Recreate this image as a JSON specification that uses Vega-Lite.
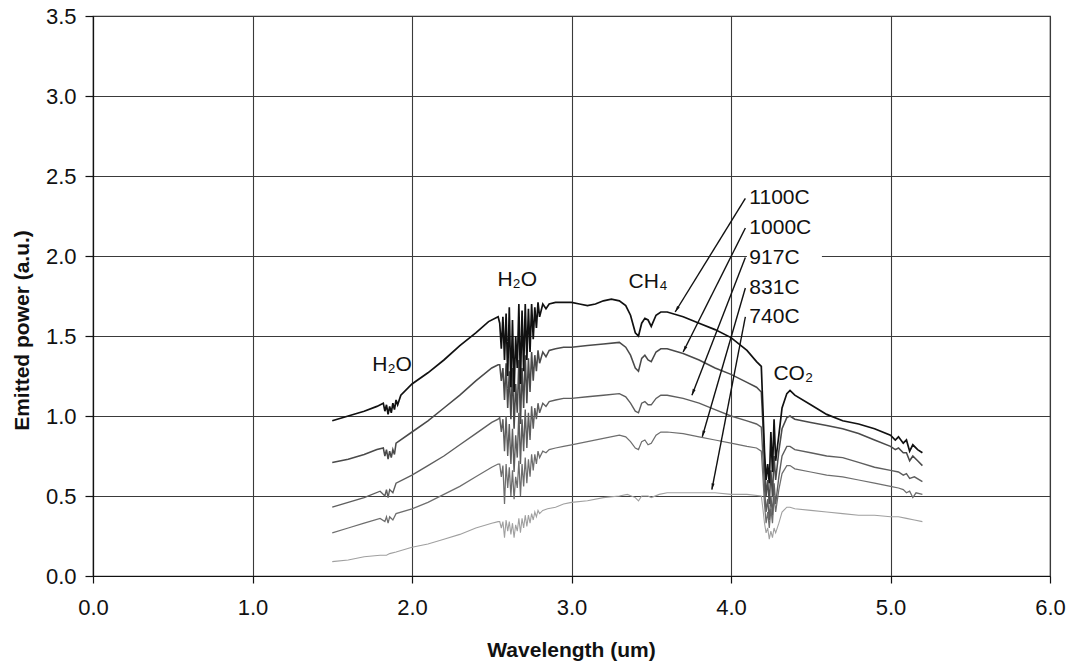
{
"$schema": "https://vega.github.io/schema/vega-lite/v6.json",
"width": 957, "height": 560,
"autosize": {"type": "none"},
"padding": {"left": 93, "top": 16, "right": 22, "bottom": 90},
"background": "white",
"config": {
 "font": "Liberation Sans",
 "view": {"stroke": "#333", "strokeWidth": 1.2},
 "axis": {"gridColor": "#3a3a3a", "gridWidth": 1.1, "gridOpacity": 1, "domainColor": "#111", "domainWidth": 1.2, "tickColor": "#111", "tickWidth": 1.2, "labelColor": "#111", "titleColor": "#111", "labelFont": "Liberation Sans", "titleFont": "Liberation Sans", "labelFlush": false, "labelOverlap": false}
},
"datasets": {
"spectra": [
{"s":"740C","w":1.5,"p":0.09},{"s":"740C","w":1.6,"p":0.10},{"s":"740C","w":1.7,"p":0.12},{"s":"740C","w":1.8,"p":0.13},{"s":"740C","w":1.84,"p":0.13},{"s":"740C","w":1.86,"p":0.14},{"s":"740C","w":1.9,"p":0.15},{"s":"740C","w":2.0,"p":0.18},{"s":"740C","w":2.1,"p":0.20},{"s":"740C","w":2.2,"p":0.23},{"s":"740C","w":2.3,"p":0.26},{"s":"740C","w":2.4,"p":0.30},{"s":"740C","w":2.5,"p":0.33},{"s":"740C","w":2.54,"p":0.34},
{"s":"740C","w":2.55,"p":0.34},{"s":"740C","w":2.56,"p":0.30},{"s":"740C","w":2.57,"p":0.34},{"s":"740C","w":2.58,"p":0.24},{"s":"740C","w":2.59,"p":0.35},{"s":"740C","w":2.60,"p":0.28},{"s":"740C","w":2.61,"p":0.34},{"s":"740C","w":2.62,"p":0.26},{"s":"740C","w":2.63,"p":0.33},{"s":"740C","w":2.64,"p":0.24},{"s":"740C","w":2.65,"p":0.32},{"s":"740C","w":2.66,"p":0.28},{"s":"740C","w":2.67,"p":0.36},{"s":"740C","w":2.68,"p":0.27},{"s":"740C","w":2.69,"p":0.36},{"s":"740C","w":2.70,"p":0.30},{"s":"740C","w":2.71,"p":0.38},{"s":"740C","w":2.72,"p":0.31},{"s":"740C","w":2.73,"p":0.38},{"s":"740C","w":2.74,"p":0.33},{"s":"740C","w":2.75,"p":0.39},{"s":"740C","w":2.76,"p":0.35},{"s":"740C","w":2.77,"p":0.40},{"s":"740C","w":2.78,"p":0.37},{"s":"740C","w":2.79,"p":0.41},{"s":"740C","w":2.80,"p":0.39},{"s":"740C","w":2.82,"p":0.41},{"s":"740C","w":2.85,"p":0.42},{"s":"740C","w":2.9,"p":0.43},{"s":"740C","w":2.95,"p":0.45},{"s":"740C","w":3.0,"p":0.46},{"s":"740C","w":3.1,"p":0.47},{"s":"740C","w":3.2,"p":0.49},{"s":"740C","w":3.3,"p":0.50},{"s":"740C","w":3.35,"p":0.51},{"s":"740C","w":3.4,"p":0.49},{"s":"740C","w":3.42,"p":0.47},{"s":"740C","w":3.44,"p":0.50},{"s":"740C","w":3.48,"p":0.50},{"s":"740C","w":3.5,"p":0.49},{"s":"740C","w":3.55,"p":0.51},{"s":"740C","w":3.6,"p":0.52},{"s":"740C","w":3.7,"p":0.52},{"s":"740C","w":3.8,"p":0.52},{"s":"740C","w":3.9,"p":0.52},{"s":"740C","w":4.0,"p":0.51},{"s":"740C","w":4.1,"p":0.51},{"s":"740C","w":4.19,"p":0.50},{"s":"740C","w":4.2,"p":0.42},{"s":"740C","w":4.21,"p":0.33},{"s":"740C","w":4.22,"p":0.27},{"s":"740C","w":4.23,"p":0.30},{"s":"740C","w":4.24,"p":0.23},{"s":"740C","w":4.25,"p":0.28},{"s":"740C","w":4.26,"p":0.24},{"s":"740C","w":4.27,"p":0.30},{"s":"740C","w":4.28,"p":0.27},{"s":"740C","w":4.3,"p":0.33},{"s":"740C","w":4.32,"p":0.40},{"s":"740C","w":4.35,"p":0.43},{"s":"740C","w":4.37,"p":0.43},{"s":"740C","w":4.4,"p":0.42},{"s":"740C","w":4.5,"p":0.41},{"s":"740C","w":4.6,"p":0.40},{"s":"740C","w":4.7,"p":0.39},{"s":"740C","w":4.8,"p":0.38},{"s":"740C","w":4.9,"p":0.38},{"s":"740C","w":5.0,"p":0.37},{"s":"740C","w":5.05,"p":0.37},{"s":"740C","w":5.1,"p":0.36},{"s":"740C","w":5.15,"p":0.35},{"s":"740C","w":5.2,"p":0.34},

{"s":"831C","w":1.5,"p":0.27},{"s":"831C","w":1.6,"p":0.30},{"s":"831C","w":1.7,"p":0.33},{"s":"831C","w":1.8,"p":0.36},{"s":"831C","w":1.83,"p":0.34},{"s":"831C","w":1.84,"p":0.37},{"s":"831C","w":1.85,"p":0.33},{"s":"831C","w":1.86,"p":0.37},{"s":"831C","w":1.88,"p":0.35},{"s":"831C","w":1.9,"p":0.39},{"s":"831C","w":2.0,"p":0.42},{"s":"831C","w":2.1,"p":0.46},{"s":"831C","w":2.2,"p":0.51},{"s":"831C","w":2.3,"p":0.56},{"s":"831C","w":2.4,"p":0.62},{"s":"831C","w":2.5,"p":0.68},{"s":"831C","w":2.54,"p":0.70},
{"s":"831C","w":2.55,"p":0.70},{"s":"831C","w":2.56,"p":0.62},{"s":"831C","w":2.57,"p":0.69},{"s":"831C","w":2.58,"p":0.45},{"s":"831C","w":2.59,"p":0.70},{"s":"831C","w":2.60,"p":0.55},{"s":"831C","w":2.61,"p":0.68},{"s":"831C","w":2.62,"p":0.50},{"s":"831C","w":2.63,"p":0.66},{"s":"831C","w":2.64,"p":0.48},{"s":"831C","w":2.65,"p":0.62},{"s":"831C","w":2.66,"p":0.55},{"s":"831C","w":2.67,"p":0.72},{"s":"831C","w":2.68,"p":0.50},{"s":"831C","w":2.69,"p":0.70},{"s":"831C","w":2.70,"p":0.56},{"s":"831C","w":2.71,"p":0.74},{"s":"831C","w":2.72,"p":0.58},{"s":"831C","w":2.73,"p":0.73},{"s":"831C","w":2.74,"p":0.62},{"s":"831C","w":2.75,"p":0.76},{"s":"831C","w":2.76,"p":0.66},{"s":"831C","w":2.77,"p":0.76},{"s":"831C","w":2.78,"p":0.70},{"s":"831C","w":2.79,"p":0.78},{"s":"831C","w":2.80,"p":0.74},{"s":"831C","w":2.82,"p":0.78},{"s":"831C","w":2.84,"p":0.77},{"s":"831C","w":2.86,"p":0.79},{"s":"831C","w":2.9,"p":0.80},{"s":"831C","w":2.95,"p":0.81},{"s":"831C","w":3.0,"p":0.82},{"s":"831C","w":3.1,"p":0.84},{"s":"831C","w":3.2,"p":0.86},{"s":"831C","w":3.3,"p":0.88},{"s":"831C","w":3.34,"p":0.87},{"s":"831C","w":3.37,"p":0.84},{"s":"831C","w":3.4,"p":0.80},{"s":"831C","w":3.42,"p":0.79},{"s":"831C","w":3.44,"p":0.84},{"s":"831C","w":3.46,"p":0.85},{"s":"831C","w":3.48,"p":0.82},{"s":"831C","w":3.5,"p":0.83},{"s":"831C","w":3.53,"p":0.88},{"s":"831C","w":3.56,"p":0.90},{"s":"831C","w":3.6,"p":0.90},{"s":"831C","w":3.7,"p":0.89},{"s":"831C","w":3.8,"p":0.87},{"s":"831C","w":3.9,"p":0.85},{"s":"831C","w":4.0,"p":0.83},{"s":"831C","w":4.1,"p":0.81},{"s":"831C","w":4.16,"p":0.80},{"s":"831C","w":4.19,"p":0.78},{"s":"831C","w":4.2,"p":0.62},{"s":"831C","w":4.21,"p":0.45},{"s":"831C","w":4.22,"p":0.33},{"s":"831C","w":4.23,"p":0.40},{"s":"831C","w":4.24,"p":0.30},{"s":"831C","w":4.25,"p":0.42},{"s":"831C","w":4.26,"p":0.33},{"s":"831C","w":4.27,"p":0.50},{"s":"831C","w":4.28,"p":0.40},{"s":"831C","w":4.3,"p":0.54},{"s":"831C","w":4.32,"p":0.64},{"s":"831C","w":4.35,"p":0.69},{"s":"831C","w":4.37,"p":0.69},{"s":"831C","w":4.4,"p":0.67},{"s":"831C","w":4.5,"p":0.65},{"s":"831C","w":4.6,"p":0.63},{"s":"831C","w":4.7,"p":0.62},{"s":"831C","w":4.8,"p":0.60},{"s":"831C","w":4.9,"p":0.58},{"s":"831C","w":5.0,"p":0.56},{"s":"831C","w":5.05,"p":0.55},{"s":"831C","w":5.08,"p":0.54},{"s":"831C","w":5.1,"p":0.52},{"s":"831C","w":5.12,"p":0.53},{"s":"831C","w":5.14,"p":0.49},{"s":"831C","w":5.16,"p":0.52},{"s":"831C","w":5.2,"p":0.51},

{"s":"917C","w":1.5,"p":0.43},{"s":"917C","w":1.6,"p":0.46},{"s":"917C","w":1.7,"p":0.49},{"s":"917C","w":1.8,"p":0.53},{"s":"917C","w":1.83,"p":0.50},{"s":"917C","w":1.84,"p":0.54},{"s":"917C","w":1.85,"p":0.49},{"s":"917C","w":1.86,"p":0.54},{"s":"917C","w":1.88,"p":0.52},{"s":"917C","w":1.9,"p":0.58},{"s":"917C","w":2.0,"p":0.63},{"s":"917C","w":2.1,"p":0.69},{"s":"917C","w":2.2,"p":0.75},{"s":"917C","w":2.3,"p":0.82},{"s":"917C","w":2.4,"p":0.89},{"s":"917C","w":2.5,"p":0.96},{"s":"917C","w":2.54,"p":0.98},
{"s":"917C","w":2.55,"p":0.99},{"s":"917C","w":2.56,"p":0.90},{"s":"917C","w":2.57,"p":0.98},{"s":"917C","w":2.58,"p":0.78},{"s":"917C","w":2.59,"p":1.00},{"s":"917C","w":2.60,"p":0.75},{"s":"917C","w":2.61,"p":0.95},{"s":"917C","w":2.62,"p":0.70},{"s":"917C","w":2.63,"p":0.92},{"s":"917C","w":2.64,"p":0.65},{"s":"917C","w":2.65,"p":0.88},{"s":"917C","w":2.66,"p":0.74},{"s":"917C","w":2.67,"p":1.02},{"s":"917C","w":2.68,"p":0.70},{"s":"917C","w":2.69,"p":0.98},{"s":"917C","w":2.70,"p":0.78},{"s":"917C","w":2.71,"p":1.04},{"s":"917C","w":2.72,"p":0.80},{"s":"917C","w":2.73,"p":1.02},{"s":"917C","w":2.74,"p":0.85},{"s":"917C","w":2.75,"p":1.06},{"s":"917C","w":2.76,"p":0.92},{"s":"917C","w":2.77,"p":1.05},{"s":"917C","w":2.78,"p":0.98},{"s":"917C","w":2.79,"p":1.08},{"s":"917C","w":2.80,"p":1.02},{"s":"917C","w":2.82,"p":1.08},{"s":"917C","w":2.84,"p":1.06},{"s":"917C","w":2.86,"p":1.09},{"s":"917C","w":2.9,"p":1.10},{"s":"917C","w":2.95,"p":1.11},{"s":"917C","w":3.0,"p":1.11},{"s":"917C","w":3.1,"p":1.12},{"s":"917C","w":3.2,"p":1.13},{"s":"917C","w":3.3,"p":1.14},{"s":"917C","w":3.34,"p":1.12},{"s":"917C","w":3.37,"p":1.08},{"s":"917C","w":3.4,"p":1.03},{"s":"917C","w":3.42,"p":1.02},{"s":"917C","w":3.44,"p":1.08},{"s":"917C","w":3.46,"p":1.09},{"s":"917C","w":3.48,"p":1.07},{"s":"917C","w":3.5,"p":1.07},{"s":"917C","w":3.53,"p":1.11},{"s":"917C","w":3.56,"p":1.13},{"s":"917C","w":3.6,"p":1.13},{"s":"917C","w":3.7,"p":1.11},{"s":"917C","w":3.8,"p":1.08},{"s":"917C","w":3.9,"p":1.04},{"s":"917C","w":4.0,"p":1.00},{"s":"917C","w":4.1,"p":0.97},{"s":"917C","w":4.16,"p":0.95},{"s":"917C","w":4.19,"p":0.93},{"s":"917C","w":4.2,"p":0.75},{"s":"917C","w":4.21,"p":0.55},{"s":"917C","w":4.22,"p":0.40},{"s":"917C","w":4.23,"p":0.48},{"s":"917C","w":4.24,"p":0.35},{"s":"917C","w":4.25,"p":0.50},{"s":"917C","w":4.26,"p":0.38},{"s":"917C","w":4.27,"p":0.58},{"s":"917C","w":4.28,"p":0.45},{"s":"917C","w":4.3,"p":0.62},{"s":"917C","w":4.32,"p":0.75},{"s":"917C","w":4.35,"p":0.81},{"s":"917C","w":4.37,"p":0.81},{"s":"917C","w":4.4,"p":0.79},{"s":"917C","w":4.5,"p":0.77},{"s":"917C","w":4.6,"p":0.75},{"s":"917C","w":4.7,"p":0.74},{"s":"917C","w":4.8,"p":0.71},{"s":"917C","w":4.9,"p":0.68},{"s":"917C","w":5.0,"p":0.66},{"s":"917C","w":5.05,"p":0.65},{"s":"917C","w":5.08,"p":0.63},{"s":"917C","w":5.1,"p":0.64},{"s":"917C","w":5.12,"p":0.61},{"s":"917C","w":5.15,"p":0.62},{"s":"917C","w":5.2,"p":0.59},

{"s":"1000C","w":1.5,"p":0.71},{"s":"1000C","w":1.6,"p":0.73},{"s":"1000C","w":1.7,"p":0.76},{"s":"1000C","w":1.78,"p":0.79},{"s":"1000C","w":1.82,"p":0.80},{"s":"1000C","w":1.83,"p":0.75},{"s":"1000C","w":1.84,"p":0.79},{"s":"1000C","w":1.85,"p":0.73},{"s":"1000C","w":1.86,"p":0.78},{"s":"1000C","w":1.87,"p":0.74},{"s":"1000C","w":1.88,"p":0.79},{"s":"1000C","w":1.89,"p":0.76},{"s":"1000C","w":1.9,"p":0.83},{"s":"1000C","w":2.0,"p":0.90},{"s":"1000C","w":2.1,"p":0.97},{"s":"1000C","w":2.2,"p":1.05},{"s":"1000C","w":2.3,"p":1.13},{"s":"1000C","w":2.4,"p":1.22},{"s":"1000C","w":2.5,"p":1.30},{"s":"1000C","w":2.54,"p":1.32},
{"s":"1000C","w":2.55,"p":1.32},{"s":"1000C","w":2.56,"p":1.22},{"s":"1000C","w":2.57,"p":1.30},{"s":"1000C","w":2.58,"p":1.10},{"s":"1000C","w":2.59,"p":1.33},{"s":"1000C","w":2.60,"p":1.05},{"s":"1000C","w":2.61,"p":1.28},{"s":"1000C","w":2.62,"p":0.98},{"s":"1000C","w":2.63,"p":1.30},{"s":"1000C","w":2.64,"p":0.92},{"s":"1000C","w":2.65,"p":1.20},{"s":"1000C","w":2.66,"p":1.02},{"s":"1000C","w":2.67,"p":1.35},{"s":"1000C","w":2.68,"p":0.95},{"s":"1000C","w":2.69,"p":1.30},{"s":"1000C","w":2.70,"p":1.05},{"s":"1000C","w":2.71,"p":1.38},{"s":"1000C","w":2.72,"p":1.08},{"s":"1000C","w":2.73,"p":1.36},{"s":"1000C","w":2.74,"p":1.15},{"s":"1000C","w":2.75,"p":1.40},{"s":"1000C","w":2.76,"p":1.22},{"s":"1000C","w":2.77,"p":1.38},{"s":"1000C","w":2.78,"p":1.28},{"s":"1000C","w":2.79,"p":1.41},{"s":"1000C","w":2.80,"p":1.33},{"s":"1000C","w":2.82,"p":1.40},{"s":"1000C","w":2.84,"p":1.37},{"s":"1000C","w":2.86,"p":1.41},{"s":"1000C","w":2.9,"p":1.42},{"s":"1000C","w":2.95,"p":1.43},{"s":"1000C","w":3.0,"p":1.43},{"s":"1000C","w":3.1,"p":1.44},{"s":"1000C","w":3.2,"p":1.45},{"s":"1000C","w":3.3,"p":1.46},{"s":"1000C","w":3.34,"p":1.43},{"s":"1000C","w":3.37,"p":1.38},{"s":"1000C","w":3.4,"p":1.30},{"s":"1000C","w":3.42,"p":1.28},{"s":"1000C","w":3.44,"p":1.36},{"s":"1000C","w":3.46,"p":1.38},{"s":"1000C","w":3.48,"p":1.35},{"s":"1000C","w":3.5,"p":1.34},{"s":"1000C","w":3.53,"p":1.40},{"s":"1000C","w":3.56,"p":1.42},{"s":"1000C","w":3.6,"p":1.42},{"s":"1000C","w":3.7,"p":1.39},{"s":"1000C","w":3.8,"p":1.35},{"s":"1000C","w":3.9,"p":1.30},{"s":"1000C","w":4.0,"p":1.26},{"s":"1000C","w":4.1,"p":1.21},{"s":"1000C","w":4.16,"p":1.18},{"s":"1000C","w":4.19,"p":1.15},{"s":"1000C","w":4.2,"p":0.95},{"s":"1000C","w":4.21,"p":0.70},{"s":"1000C","w":4.22,"p":0.50},{"s":"1000C","w":4.23,"p":0.60},{"s":"1000C","w":4.24,"p":0.45},{"s":"1000C","w":4.25,"p":0.66},{"s":"1000C","w":4.26,"p":0.50},{"s":"1000C","w":4.27,"p":0.75},{"s":"1000C","w":4.28,"p":0.60},{"s":"1000C","w":4.3,"p":0.78},{"s":"1000C","w":4.32,"p":0.92},{"s":"1000C","w":4.35,"p":0.99},{"s":"1000C","w":4.37,"p":1.00},{"s":"1000C","w":4.4,"p":0.98},{"s":"1000C","w":4.5,"p":0.96},{"s":"1000C","w":4.6,"p":0.94},{"s":"1000C","w":4.7,"p":0.92},{"s":"1000C","w":4.8,"p":0.89},{"s":"1000C","w":4.9,"p":0.85},{"s":"1000C","w":5.0,"p":0.81},{"s":"1000C","w":5.03,"p":0.79},{"s":"1000C","w":5.05,"p":0.80},{"s":"1000C","w":5.08,"p":0.77},{"s":"1000C","w":5.1,"p":0.77},{"s":"1000C","w":5.12,"p":0.72},{"s":"1000C","w":5.14,"p":0.75},{"s":"1000C","w":5.17,"p":0.72},{"s":"1000C","w":5.2,"p":0.69},

{"s":"1100C","w":1.5,"p":0.97},{"s":"1100C","w":1.6,"p":1.00},{"s":"1100C","w":1.7,"p":1.03},{"s":"1100C","w":1.78,"p":1.06},{"s":"1100C","w":1.82,"p":1.08},{"s":"1100C","w":1.83,"p":1.03},{"s":"1100C","w":1.84,"p":1.07},{"s":"1100C","w":1.85,"p":1.01},{"s":"1100C","w":1.86,"p":1.06},{"s":"1100C","w":1.87,"p":1.02},{"s":"1100C","w":1.88,"p":1.08},{"s":"1100C","w":1.89,"p":1.04},{"s":"1100C","w":1.9,"p":1.10},{"s":"1100C","w":1.91,"p":1.07},{"s":"1100C","w":1.93,"p":1.13},{"s":"1100C","w":2.0,"p":1.20},{"s":"1100C","w":2.1,"p":1.27},{"s":"1100C","w":2.2,"p":1.35},{"s":"1100C","w":2.3,"p":1.44},{"s":"1100C","w":2.4,"p":1.52},{"s":"1100C","w":2.48,"p":1.59},{"s":"1100C","w":2.54,"p":1.62},
{"s":"1100C","w":2.55,"p":1.58},{"s":"1100C","w":2.56,"p":1.42},{"s":"1100C","w":2.57,"p":1.62},{"s":"1100C","w":2.58,"p":1.35},{"s":"1100C","w":2.59,"p":1.64},{"s":"1100C","w":2.60,"p":1.25},{"s":"1100C","w":2.61,"p":1.68},{"s":"1100C","w":2.62,"p":1.18},{"s":"1100C","w":2.63,"p":1.60},{"s":"1100C","w":2.64,"p":1.15},{"s":"1100C","w":2.65,"p":1.50},{"s":"1100C","w":2.66,"p":1.30},{"s":"1100C","w":2.67,"p":1.70},{"s":"1100C","w":2.68,"p":1.20},{"s":"1100C","w":2.69,"p":1.66},{"s":"1100C","w":2.70,"p":1.28},{"s":"1100C","w":2.71,"p":1.70},{"s":"1100C","w":2.72,"p":1.35},{"s":"1100C","w":2.73,"p":1.67},{"s":"1100C","w":2.74,"p":1.40},{"s":"1100C","w":2.75,"p":1.70},{"s":"1100C","w":2.76,"p":1.48},{"s":"1100C","w":2.77,"p":1.68},{"s":"1100C","w":2.78,"p":1.55},{"s":"1100C","w":2.79,"p":1.71},{"s":"1100C","w":2.80,"p":1.62},{"s":"1100C","w":2.82,"p":1.70},{"s":"1100C","w":2.84,"p":1.67},{"s":"1100C","w":2.86,"p":1.70},{"s":"1100C","w":2.9,"p":1.71},{"s":"1100C","w":2.95,"p":1.71},{"s":"1100C","w":3.0,"p":1.71},{"s":"1100C","w":3.05,"p":1.70},{"s":"1100C","w":3.1,"p":1.69},{"s":"1100C","w":3.15,"p":1.70},{"s":"1100C","w":3.2,"p":1.72},{"s":"1100C","w":3.25,"p":1.73},{"s":"1100C","w":3.3,"p":1.72},{"s":"1100C","w":3.34,"p":1.69},{"s":"1100C","w":3.37,"p":1.63},{"s":"1100C","w":3.4,"p":1.52},{"s":"1100C","w":3.42,"p":1.50},{"s":"1100C","w":3.44,"p":1.58},{"s":"1100C","w":3.46,"p":1.61},{"s":"1100C","w":3.48,"p":1.60},{"s":"1100C","w":3.5,"p":1.56},{"s":"1100C","w":3.53,"p":1.63},{"s":"1100C","w":3.56,"p":1.65},{"s":"1100C","w":3.6,"p":1.65},{"s":"1100C","w":3.7,"p":1.62},{"s":"1100C","w":3.8,"p":1.58},{"s":"1100C","w":3.9,"p":1.54},{"s":"1100C","w":4.0,"p":1.49},{"s":"1100C","w":4.1,"p":1.41},{"s":"1100C","w":4.16,"p":1.34},{"s":"1100C","w":4.19,"p":1.31},{"s":"1100C","w":4.2,"p":1.05},{"s":"1100C","w":4.21,"p":0.78},{"s":"1100C","w":4.22,"p":0.60},{"s":"1100C","w":4.23,"p":0.70},{"s":"1100C","w":4.24,"p":0.58},{"s":"1100C","w":4.25,"p":0.90},{"s":"1100C","w":4.26,"p":0.65},{"s":"1100C","w":4.27,"p":0.98},{"s":"1100C","w":4.28,"p":0.72},{"s":"1100C","w":4.3,"p":0.88},{"s":"1100C","w":4.32,"p":1.05},{"s":"1100C","w":4.35,"p":1.14},{"s":"1100C","w":4.37,"p":1.16},{"s":"1100C","w":4.4,"p":1.13},{"s":"1100C","w":4.5,"p":1.07},{"s":"1100C","w":4.6,"p":1.01},{"s":"1100C","w":4.7,"p":0.97},{"s":"1100C","w":4.8,"p":0.95},{"s":"1100C","w":4.9,"p":0.92},{"s":"1100C","w":5.0,"p":0.88},{"s":"1100C","w":5.03,"p":0.85},{"s":"1100C","w":5.05,"p":0.87},{"s":"1100C","w":5.08,"p":0.83},{"s":"1100C","w":5.1,"p":0.85},{"s":"1100C","w":5.12,"p":0.78},{"s":"1100C","w":5.14,"p":0.82},{"s":"1100C","w":5.17,"p":0.79},{"s":"1100C","w":5.2,"p":0.77}
],
"labels": [
{"t":"1100C","lx":4.09,"ly":2.36,"tx":3.65,"ty":1.65,"a":211.6},
{"t":"1000C","lx":4.09,"ly":2.175,"tx":3.70,"ty":1.40,"a":206.6},
{"t":"917C","lx":4.09,"ly":1.99,"tx":3.755,"ty":1.13,"a":201.2},
{"t":"831C","lx":4.09,"ly":1.80,"tx":3.82,"ty":0.87,"a":196.2},
{"t":"740C","lx":4.09,"ly":1.62,"tx":3.88,"ty":0.54,"a":191}
],
"species": [
{"t":"H₂O","x":1.875,"y":1.32},
{"t":"H₂O","x":2.66,"y":1.85},
{"t":"CH₄","x":3.48,"y":1.84},
{"t":"CO₂","x":4.39,"y":1.26}
],
"box": [{"x1":4.10,"x2":4.57,"y1":1.965,"y2":2.025}]
},
"layer": [
{
 "data": {"name": "spectra"},
 "mark": {"type": "line", "interpolate": "linear"},
 "encoding": {
  "x": {"field": "w", "type": "quantitative", "scale": {"domain": [0, 6], "nice": false},
   "axis": {"values": [0,1,2,3,4,5,6], "format": ".1f", "grid": true, "tickSize": 7, "labelFontSize": 22, "labelPadding": 14, "title": "Wavelength (um)", "titleFontSize": 21, "titleFontWeight": "bold", "titleBaseline": "middle", "titleY": 74, "titleX": 478}},
  "y": {"field": "p", "type": "quantitative", "scale": {"domain": [0, 3.5], "nice": false},
   "axis": {"values": [0,0.5,1,1.5,2,2.5,3,3.5], "format": ".1f", "grid": true, "tickSize": 8, "labelFontSize": 22, "labelPadding": 9, "title": "Emitted power (a.u.)", "titleFontSize": 21, "titleFontWeight": "bold", "titleBaseline": "middle", "titleX": -71, "titleY": 314}},
  "color": {"field": "s", "type": "nominal", "legend": null, "scale": {"domain": ["1100C","1000C","917C","831C","740C"], "range": ["#111111","#4a4a4a","#5e5e5e","#6e6e6e","#a0a0a0"]}},
  "strokeWidth": {"field": "s", "type": "nominal", "legend": null, "scale": {"domain": ["1100C","1000C","917C","831C","740C"], "range": [1.7, 1.1, 1.0, 1.0, 1.0]}}
 }
},
{
 "data": {"name": "box"},
 "mark": {"type": "rect", "color": "white"},
 "encoding": {"x": {"field": "x1", "type": "quantitative"}, "x2": {"field": "x2"}, "y": {"field": "y1", "type": "quantitative"}, "y2": {"field": "y2"}}
},
{
 "data": {"name": "labels"},
 "mark": {"type": "rule", "color": "#111", "strokeWidth": 1.4},
 "encoding": {"x": {"field": "lx", "type": "quantitative"}, "y": {"field": "ly", "type": "quantitative"}, "x2": {"field": "tx"}, "y2": {"field": "ty"}}
},
{
 "data": {"name": "labels"},
 "mark": {"type": "point", "shape": "M0,0L0.4,1.6L-0.4,1.6Z", "filled": true, "color": "#111", "size": 60, "opacity": 1},
 "encoding": {"x": {"field": "tx", "type": "quantitative"}, "y": {"field": "ty", "type": "quantitative"}, "angle": {"field": "a", "type": "quantitative", "scale": null}}
},
{
 "data": {"name": "labels"},
 "mark": {"type": "text", "align": "left", "baseline": "middle", "dx": 4, "fontSize": 21, "color": "#111", "font": "Liberation Sans"},
 "encoding": {"x": {"field": "lx", "type": "quantitative"}, "y": {"field": "ly", "type": "quantitative"}, "text": {"field": "t"}}
},
{
 "data": {"name": "species"},
 "mark": {"type": "text", "align": "center", "baseline": "middle", "fontSize": 21, "color": "#111", "font": "Liberation Sans"},
 "encoding": {"x": {"field": "x", "type": "quantitative"}, "y": {"field": "y", "type": "quantitative"}, "text": {"field": "t"}}
}
]
}
